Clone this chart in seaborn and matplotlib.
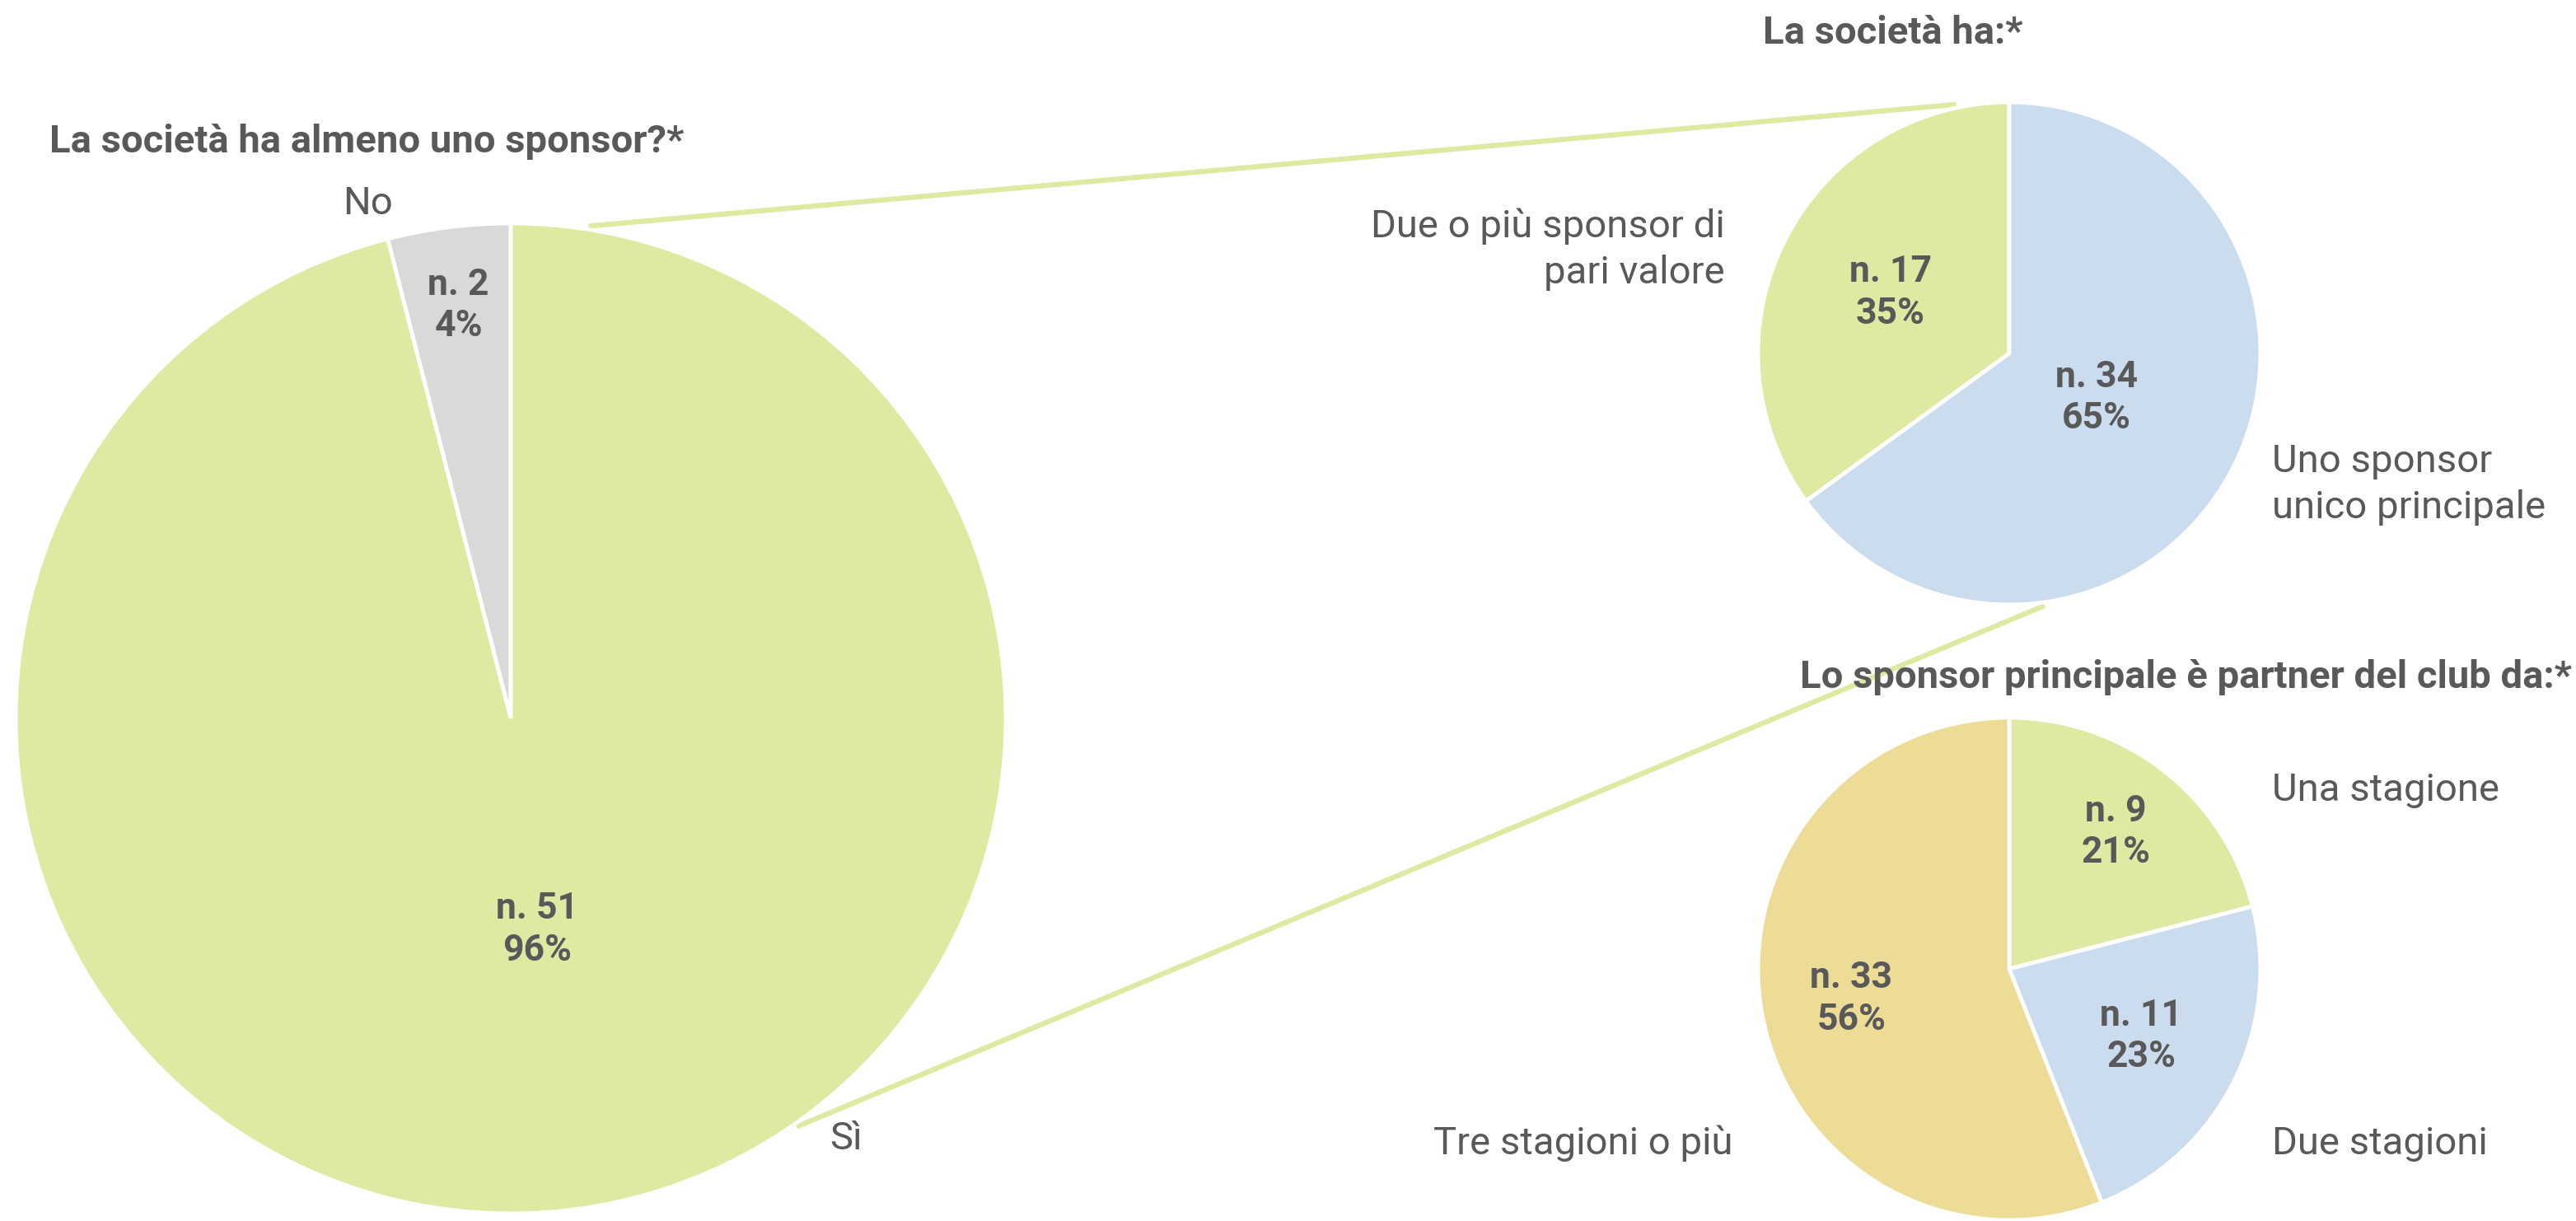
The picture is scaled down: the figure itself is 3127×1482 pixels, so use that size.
import numpy as np
import matplotlib
matplotlib.use("Agg")
import matplotlib.pyplot as plt
import seaborn as sns

# dati
sponsor_labels = ["No", "Sì"]
sponsor_n = [2, 51]
sponsor_pct = [4, 96]

tipo_labels = ["Due o più sponsor di\npari valore", "Uno sponsor\nunico principale"]
tipo_n = [17, 34]
tipo_pct = [35, 65]

durata_labels = ["Una stagione", "Due stagioni", "Tre stagioni o più"]
durata_n = [9, 11, 33]
durata_pct = [21, 23, 56]

titles = ["La società ha almeno uno sponsor?*",
          "La società ha:*",
          "Lo sponsor principale è partner del club da:*"]

sns.set_theme(style="white")
plt.rcParams['font.family'] = ['Roboto', 'DejaVu Sans']

GREEN = "#dfe9a1"
GREY = "#d9d9d9"
BLUE = "#cadcee"
TAN = "#ecdc96"
TXT = "#595959"

W, H = 3127, 1482
fig = plt.figure(figsize=(W / 100, H / 100), dpi=100)
ax = fig.add_axes([0, 0, 1, 1])

wprops = dict(edgecolor="white", linewidth=3.5)

# torta grande
c1, r1 = (620, 610), 601
w1, _ = ax.pie(sponsor_pct, colors=[GREY, GREEN], startangle=90, counterclock=True,
               center=c1, radius=r1, wedgeprops=wprops, frame=True)
# torta in alto a destra
c2, r2 = (2439, 1053), 305
w2, _ = ax.pie(tipo_pct, colors=[GREEN, BLUE], startangle=90, counterclock=True,
               center=c2, radius=r2, wedgeprops=wprops, frame=True)
# torta in basso a destra
c3, r3 = (2439, 306), 305
w3, _ = ax.pie(durata_pct, colors=[GREEN, BLUE, TAN], startangle=90, counterclock=False,
               center=c3, radius=r3, wedgeprops=wprops, frame=True)
ax.set_xlim(0, W)
ax.set_ylim(0, H)
ax.set_aspect('equal')
ax.axis('off')

FS = 34
FS_IN = 32


def inner(wedges, ns, pcts, dists):
    for w, n, p, d in zip(wedges, ns, pcts, dists):
        th = np.deg2rad((w.theta1 + w.theta2) / 2)
        x = w.center[0] + d * w.r * np.cos(th)
        y = w.center[1] + d * w.r * np.sin(th)
        ax.text(x, y, f"n. {n}\n{p}%", ha="center", va="center", fontsize=FS_IN,
                fontweight="bold", color=TXT, linespacing=1.25)


inner(w1, sponsor_n, sponsor_pct, [0.84, 0.43])
inner(w2, tipo_n, tipo_pct, [0.53, 0.39])
inner(w3, durata_n, durata_pct, [0.69, 0.59, 0.64])


def on_circle(c, r, ang):
    a = np.deg2rad(ang)
    return c[0] + r * np.cos(a), c[1] + r * np.sin(a)


# linee di collegamento
for a1, a2 in [(81, 102), (-55, -82)]:
    p1 = on_circle(c1, r1 + 4, a1)
    p2 = on_circle(c2, r2 + 4, a2)
    ax.plot([p1[0], p2[0]], [p1[1], p2[1]], color=GREEN, lw=4.5, solid_capstyle="butt", zorder=0)

# titoli
ax.text(60, 1310, titles[0], ha="left", va="center", fontsize=FS, fontweight="bold", color=TXT)
ax.text(2140, 1442, titles[1], ha="left", va="center", fontsize=FS, fontweight="bold", color=TXT)
ax.text(3122, 660, titles[2], ha="right", va="center", fontsize=FS, fontweight="bold", color=TXT)

# etichette esterne
lab = dict(fontsize=FS, color=TXT, va="center", linespacing=1.35)
ax.text(447, 1235, sponsor_labels[0], ha="center", **lab)
ax.text(1027, 100, sponsor_labels[1], ha="center", **lab)
ax.text(2094, 1179, tipo_labels[0], ha="right", multialignment="right", **lab)
ax.text(2758, 894, tipo_labels[1], ha="left", **lab)
ax.text(2758, 523, durata_labels[0], ha="left", **lab)
ax.text(2758, 94, durata_labels[1], ha="left", **lab)
ax.text(2104, 94, durata_labels[2], ha="right", **lab)

fig.savefig("out.png", dpi=100, facecolor="white")
